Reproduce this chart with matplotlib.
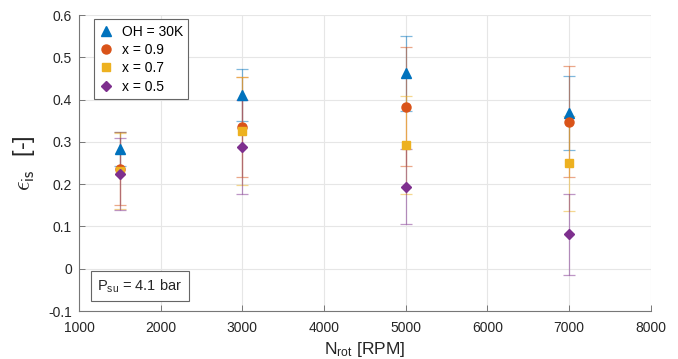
import numpy as np
import matplotlib.pyplot as plt

plt.rcParams['font.family'] = ['Liberation Sans', 'DejaVu Sans']
plt.rcParams['mathtext.fontset'] = 'custom'
plt.rcParams['mathtext.rm'] = 'Liberation Sans'
plt.rcParams['mathtext.it'] = 'Liberation Sans:italic'

# 转速
rpm = [1500, 3000, 5000, 7000]

# 各工况的等熵效率及误差
oh30 = [0.283, 0.411, 0.462, 0.368]
oh30_err = [0.040, 0.061, 0.089, 0.088]
x09 = [0.237, 0.336, 0.383, 0.348]
x09_err = [0.087, 0.118, 0.141, 0.132]
x07 = [0.232, 0.325, 0.293, 0.249]
x07_err = [0.090, 0.128, 0.116, 0.112]
x05 = [0.225, 0.288, 0.194, 0.081]
x05_err = [0.085, 0.111, 0.088, 0.095]

labels = ['OH = 30K', 'x = 0.9', 'x = 0.7', 'x = 0.5']
colors = ['#0072BD', '#D95319', '#EDB120', '#7E2F8E']
markers = ['^', 'o', 's', 'D']
sizes = [7, 6.5, 5.5, 5]

fig = plt.figure(figsize=(6.78, 3.59), dpi=100)
ax = fig.add_axes([0.1165, 0.1337, 0.8435, 0.8245])

series = [(oh30, oh30_err), (x09, x09_err), (x07, x07_err), (x05, x05_err)]
handles = []
for (vals, errs), lab, c, m, s in zip(series, labels, colors, markers, sizes):
    ax.errorbar(rpm, vals, yerr=errs, fmt='none', ecolor=c, elinewidth=0.9,
                capsize=4, capthick=0.9, alpha=0.5, zorder=2)
    h, = ax.plot(rpm, vals, linestyle='none', marker=m, color=c, markersize=s,
                 markeredgecolor=c, label=lab, zorder=3)
    handles.append(h)

ax.set_xlim(1000, 8000)
ax.set_ylim(-0.1, 0.6)
ax.set_xticks(np.arange(1000, 8001, 1000))
ax.set_yticks(np.round(np.arange(-0.1, 0.61, 0.1), 1))
ax.set_yticklabels(['-0.1', '0', '0.1', '0.2', '0.3', '0.4', '0.5', '0.6'])
ax.grid(True, color='#e6e6e6', linewidth=0.8)
ax.set_axisbelow(True)
for sp in ['top', 'right']:
    ax.spines[sp].set_visible(False)
for sp in ['left', 'bottom']:
    ax.spines[sp].set_color('#777777')
    ax.spines[sp].set_linewidth(0.8)
ax.tick_params(direction='in', length=4, width=0.7, color='#777777',
               labelsize=10, labelcolor='#262626')
ax.tick_params(axis='x', pad=7)
ax.tick_params(axis='y', pad=5)

ax.set_xlabel(r'N$_{\rm rot}$ [RPM]', fontsize=12.5, color='#262626', labelpad=4)
ax.set_ylabel(r'$\epsilon_{\mathsf{is}}$  [-]', fontsize=17, color='#262626',
              labelpad=8, math_fontfamily='cm')

leg = ax.legend(handles=handles, loc='upper left', bbox_to_anchor=(0.026, 0.985),
                fontsize=10, fancybox=False, edgecolor='#666666', framealpha=1,
                handlelength=1.0, handletextpad=0.6, borderpad=0.4,
                labelspacing=0.3, borderaxespad=0)
leg.get_frame().set_linewidth(0.8)

ax.text(0.032, 0.055, r'P$_{\rm su}$ = 4.1 bar', transform=ax.transAxes,
        fontsize=10.5, color='#262626', va='bottom', ha='left',
        bbox=dict(boxstyle='square,pad=0.45', facecolor='white',
                  edgecolor='#666666', linewidth=0.8))

fig.savefig('out.png', dpi=100)
